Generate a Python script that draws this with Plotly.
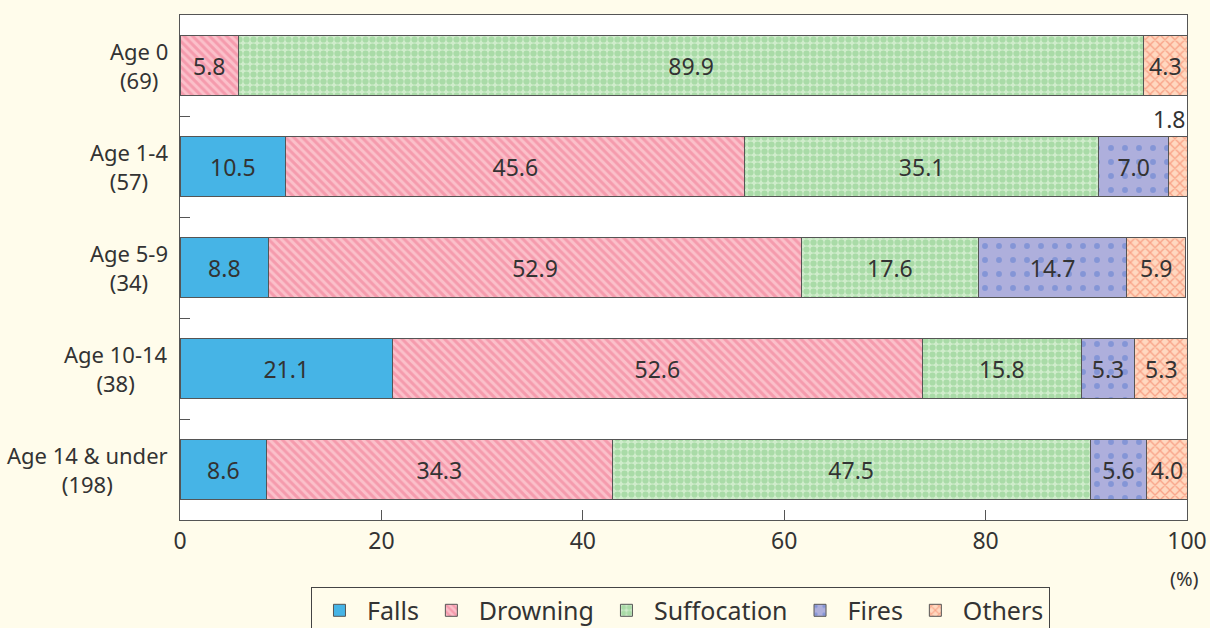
import plotly.graph_objects as go

ages = ["Age 0", "Age 1-4", "Age 5-9", "Age 10-14", "Age 14 & under"]
counts = [69, 57, 34, 38, 198]
falls = [0, 10.5, 8.8, 21.1, 8.6]
drowning = [5.8, 45.6, 52.9, 52.6, 34.3]
suffocation = [89.9, 35.1, 17.6, 15.8, 47.5]
fires = [0, 7.0, 14.7, 5.3, 5.6]
others = [4.3, 1.8, 5.9, 5.3, 4.0]
x_ticks = [0, 20, 40, 60, 80, 100]

series = [
    ("Falls", falls, dict(shape="", bgcolor="#46B4E6", fgcolor="#46B4E6")),
    ("Drowning", drowning, dict(shape="\\", bgcolor="#FBC0CA", fgcolor="#F07690", size=6, solidity=0.5)),
    ("Suffocation", suffocation, dict(shape=".", bgcolor="#D0ECCC", fgcolor="#82CA82", size=7, solidity=0.62)),
    ("Fires", fires, dict(shape=".", bgcolor="#AEAFDC", fgcolor="#5A7CD0", size=14, solidity=0.14)),
    ("Others", others, dict(shape="x", bgcolor="#FFD8C0", fgcolor="#F26C4E", size=7, solidity=0.35)),
]

fig = go.Figure()
for name, vals, pat in series:
    # small slices get their label outside the bar
    txt = ["%.1f" % v if v >= 2 else "" for v in vals]
    fig.add_trace(go.Bar(
        y=ages, x=vals, name=name, orientation="h",
        text=txt, textposition="inside", insidetextanchor="middle", textangle=0,
        textfont=dict(size=23, color="#333333"),
        marker=dict(color=pat["bgcolor"], pattern=pat, line=dict(color="#555555", width=1)),
        hoverinfo="x+name",
    ))

# category labels, centred two-line blocks
for a, n in zip(ages, counts):
    fig.add_annotation(x=0, xref="paper", y=a, text="%s<br>(%d)" % (a, n), showarrow=False,
                       xanchor="right", xshift=-10, align="center",
                       font=dict(size=22, color="#333333"))

# 1.8 label above the Age 1-4 bar
fig.add_annotation(x=100, y=ages[1], text="%.1f" % others[1], showarrow=False,
                   xanchor="right", yanchor="bottom", yshift=30,
                   font=dict(size=23, color="#333333"))
fig.add_annotation(x=1, xref="paper", y=-0.085, yref="paper", text="(%)", showarrow=False,
                   xanchor="center", yanchor="top", xshift=-3, font=dict(size=20, color="#333333"))

fig.update_layout(
    barmode="stack", bargap=0.4,
    width=1210, height=628,
    margin=dict(l=180, r=23, t=15, b=108),
    paper_bgcolor="#FFFCEB", plot_bgcolor="white",
    font=dict(family="Noto Sans", color="#333333"),
    uniformtext=dict(minsize=23, mode="show"),
    showlegend=True,
    legend=dict(orientation="h", x=0.497, xanchor="center", xref="paper",
                y=0.066, yanchor="top", yref="container", itemwidth=45,
                bordercolor="#444444", borderwidth=1, bgcolor="#FFFCEB",
                font=dict(size=25, color="#333333"), traceorder="normal"),
)
fig.update_xaxes(range=[0, 100], tickvals=x_ticks, ticks="inside", ticklen=10,
                 tickcolor="#555555", showgrid=False, zeroline=False, automargin=False,
                 showline=True, linecolor="#555555", mirror=True,
                 tickfont=dict(size=23, color="#333333"))
fig.update_yaxes(autorange="reversed", ticks="inside", ticklen=10, tickson="boundaries",
                 tickcolor="#555555", showgrid=False, showline=True, linecolor="#555555",
                 mirror=True, showticklabels=False, automargin=False)

fig.write_html("out.html", config={"displayModeBar": False},
               post_script="document.body.style.margin='0';document.body.style.overflow='hidden';")
